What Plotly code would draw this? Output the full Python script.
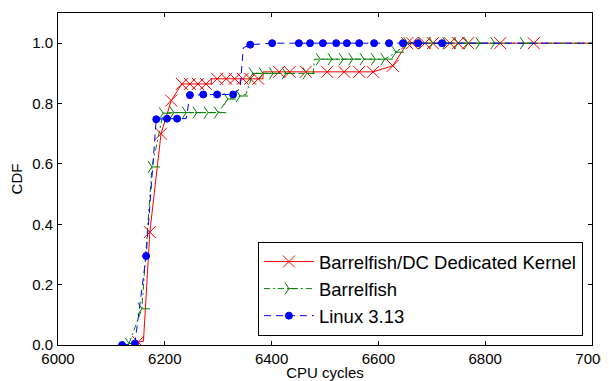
import plotly.graph_objects as go

# ---- data ----
series_names = ["Barrelfish/DC Dedicated Kernel", "Barrelfish", "Linux 3.13"]

red_x = [6150, 6172, 6193, 6212, 6232, 6247, 6262, 6277, 6298, 6315, 6331, 6346,
         6360, 6375, 6414, 6434, 6464, 6504, 6536, 6564, 6590, 6627, 6654, 6663,
         6687, 6702, 6734, 6749, 6768, 6828, 6891]
red_y = [0.01, 0.374, 0.70, 0.81, 0.865, 0.865, 0.865, 0.865, 0.882, 0.882, 0.882, 0.882,
         0.882, 0.882, 0.905, 0.905, 0.905, 0.905, 0.905, 0.905, 0.905, 0.925, 1.0, 1.0,
         1.0, 1.0, 1.0, 1.0, 1.0, 1.0, 1.0]
red_step_x = [6160, 6287, 6287, 6384, 6384]
red_step_y = [0.012, 0.865, 0.882, 0.882, 0.905]

green_x = [6133, 6157, 6176, 6197, 6217, 6240, 6260, 6281, 6300, 6318, 6341, 6365,
           6384, 6403, 6427, 6466, 6491, 6513, 6534, 6552, 6573, 6594, 6612, 6633,
           6655, 6682, 6702, 6728, 6749, 6768, 6790, 6818, 6873]
green_y = [0.005, 0.12, 0.59, 0.768, 0.77, 0.77, 0.77, 0.77, 0.77, 0.815, 0.825, 0.9,
           0.9, 0.9, 0.9, 0.9, 0.947, 0.947, 0.947, 0.947, 0.947, 0.947, 0.947, 0.97,
           1.0, 1.0, 1.0, 1.0, 1.0, 1.0, 1.0, 1.0, 1.0]
green_step_x = [6352, 6478, 6480]
green_step_y = [0.83, 0.9, 0.947]

blue_x = [6120, 6144, 6165, 6184, 6204, 6223, 6247, 6272, 6298, 6328, 6360, 6401,
          6451, 6472, 6496, 6521, 6541, 6564, 6592, 6620, 6646, 6674, 6719]
blue_y = [0.0, 0.005, 0.295, 0.748, 0.75, 0.75, 0.828, 0.83, 0.83, 0.83, 0.995, 1.0,
          1.0, 1.0, 1.0, 1.0, 1.0, 1.0, 1.0, 1.0, 1.0, 1.0, 1.0]
blue_step_x = [6240, 6341, 6347]
blue_step_y = [0.75, 0.85, 0.985]

x_ticks = [6000, 6200, 6400, 6600, 6800, 7000]
y_ticks = [0.0, 0.2, 0.4, 0.6, 0.8, 1.0]
x_range = [6000, 7000]
y_range = [0, 1.1]

colors = ["#ff0000", "#008000", "#0000ff"]
symbols = ["x-thin-open", "y-right", "circle"]
sizes = [12, 10, 7]
dashes = ["solid", "6px,3px,2px,3px", "7px,5px"]

def path(xs, ys, sx, sy):
    pts = sorted(list(zip(xs, ys)) + list(zip(sx, sy)))
    px = [p[0] for p in pts] + [x_range[1]]
    py = [p[1] for p in pts] + [ys[-1]]
    return px, py

fig = go.Figure()
all_series = [(red_x, red_y, red_step_x, red_step_y),
              (green_x, green_y, green_step_x, green_step_y),
              (blue_x, blue_y, blue_step_x, blue_step_y)]

# legend entries
for i, name in enumerate(series_names):
    fig.add_trace(go.Scatter(
        x=[None], y=[None], mode="lines+markers", name=name,
        line=dict(color=colors[i], width=1.0, dash=dashes[i]),
        marker=dict(symbol=symbols[i], size=sizes[i], color=colors[i],
                    line=dict(color=colors[i], width=1.0)),
        showlegend=True))

for i, (xs, ys, sx, sy) in enumerate(all_series):
    lx, ly = path(xs, ys, sx, sy)
    fig.add_trace(go.Scatter(
        x=lx, y=ly, mode="lines", showlegend=False, hoverinfo="skip",
        line=dict(color=colors[i], width=1.0, dash=dashes[i])))
    fig.add_trace(go.Scatter(
        x=xs, y=ys, mode="markers", showlegend=False, name=series_names[i],
        marker=dict(symbol=symbols[i], size=sizes[i], color=colors[i],
                    line=dict(color=colors[i], width=1.0))))

font_family = "Liberation Sans, Arial, sans-serif"
# the page body adds an 8px offset, so the figure is 8px smaller and shifted
fig.update_layout(
    width=601, height=373,
    margin=dict(l=50, r=17, t=5, b=36, autoexpand=False),
    paper_bgcolor="white", plot_bgcolor="white",
    font=dict(family=font_family, size=15, color="black"),
    legend=dict(x=0.983, y=0.027, xanchor="right", yanchor="bottom",
                bgcolor="white", bordercolor="black", borderwidth=1,
                font=dict(size=18.5, family=font_family),
                itemwidth=50, traceorder="normal"),
)
fig.update_xaxes(range=x_range, tickvals=x_ticks, ticktext=[str(v) for v in x_ticks],
                 ticks="inside", ticklen=4, tickcolor="black",
                 showline=True, linecolor="black", linewidth=1, mirror="ticks",
                 showgrid=False, zeroline=False, automargin=False,
                 title=dict(text="CPU cycles", standoff=2, font=dict(size=15)),
                 tickfont=dict(size=15))
fig.update_yaxes(range=y_range, tickvals=y_ticks, ticktext=[f"{v:.1f}" for v in y_ticks],
                 ticks="inside", ticklen=4, tickcolor="black",
                 showline=True, linecolor="black", linewidth=1, mirror="ticks",
                 showgrid=False, zeroline=False, automargin=False,
                 ticklabelstandoff=1,
                 title=dict(text="CDF", standoff=5, font=dict(size=15)),
                 tickfont=dict(size=15))

fig.write_html("out.html")
